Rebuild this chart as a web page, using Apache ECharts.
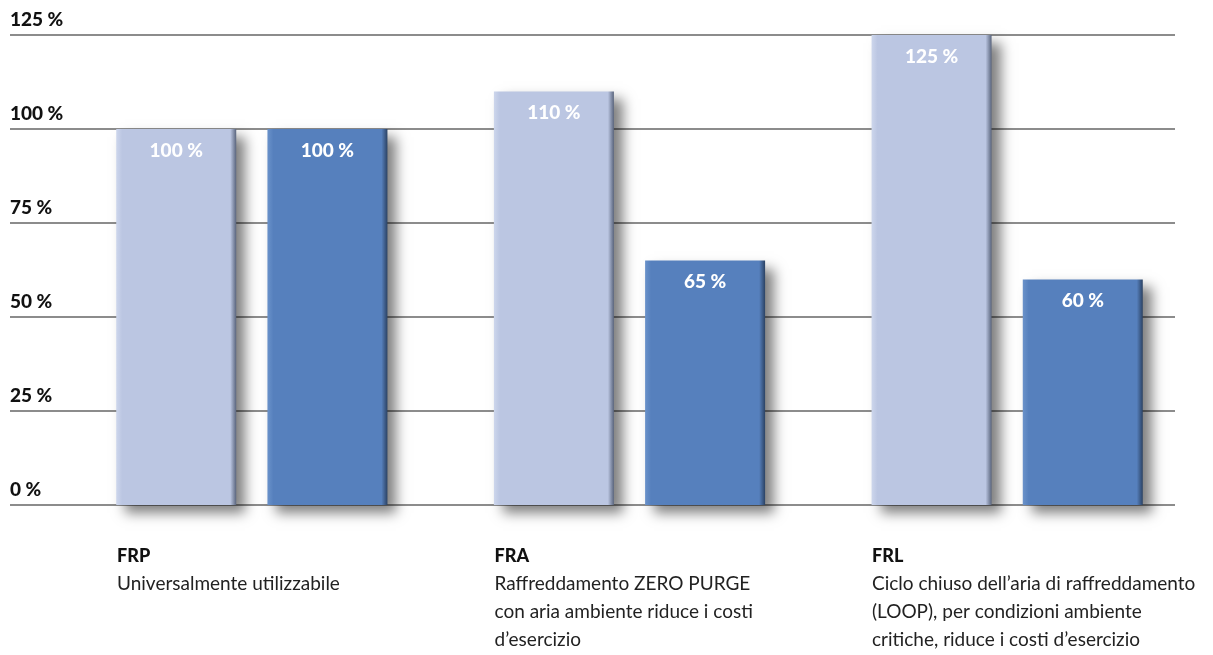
<!DOCTYPE html>
<html>
<head>
<meta charset="utf-8">
<script src="https://cdn.jsdelivr.net/npm/echarts@6/dist/echarts.min.js"></script>
<style>
  html, body { margin: 0; padding: 0; background: #fff; }
  #chart { width: 1213px; height: 655px; }
</style>
</head>
<body>
<div id="chart"></div>
<script>
var categories = ['FRP', 'FRA', 'FRL'];
var descriptions = [
    ['Universalmente utilizzabile'],
    ['Raffreddamento ZERO PURGE', 'con aria ambiente riduce i costi', 'd\u2019esercizio'],
    ['Ciclo chiuso dell\u2019aria di raffreddamento', '(LOOP), per condizioni ambiente', 'critiche, riduce i costi d\u2019esercizio']
];
var standardValues = [100, 110, 125];
var optionValues = [100, 65, 60];
var yMin = 0, yMax = 125, yStep = 25;

var myChart = echarts.init(document.getElementById('chart'));

function barColor(left, main, right) {
    return new echarts.graphic.LinearGradient(0, 0, 1, 0, [
        { offset: 0, color: left },
        { offset: 0.05, color: main },
        { offset: 0.95, color: main },
        { offset: 1, color: right }
    ]);
}

var valueLabel = {
    show: true,
    position: 'insideTop',
    distance: 12,
    color: '#fff',
    fontFamily: 'Lato',
    fontWeight: 900,
    fontSize: 19,
    formatter: '{c} %'
};

var option = {
    animation: false,
    backgroundColor: '#fff',
    grid: [
        // grid 0: horizontal lines + y labels
        { left: 10, right: 38, top: 35, bottom: 150 },
        // grid 1: bars
        { left: 63, width: 1133, top: 35, bottom: 150 },
        // grid 2: category texts, left aligned with first bar
        { left: 117, width: 755, top: 35, bottom: 150 }
    ],
    xAxis: [
        { gridIndex: 0, type: 'value', show: false },
        {
            gridIndex: 1, type: 'category', data: categories,
            axisLine: { show: false }, axisTick: { show: false }, axisLabel: { show: false }
        },
        {
            gridIndex: 2, type: 'category', data: categories, boundaryGap: false,
            axisLine: { show: false }, axisTick: { show: false },
            axisLabel: {
                interval: 0,
                align: 'left',
                verticalAlign: 'top',
                margin: 37,
                formatter: function (value, i) {
                    var s = '{t|' + value + '}';
                    descriptions[i].forEach(function (line) {
                        s += '\n{d|' + line + '}';
                    });
                    return s;
                },
                rich: {
                    t: { fontFamily: 'Lato', fontWeight: 900, fontSize: 18, color: '#111', lineHeight: 28 },
                    d: { fontFamily: 'Lato', fontSize: 19, color: '#222', lineHeight: 28 }
                }
            }
        }
    ],
    yAxis: [
        {
            gridIndex: 0, type: 'value', min: yMin, max: yMax, interval: yStep,
            axisLine: { show: false }, axisTick: { show: false },
            splitLine: { lineStyle: { color: '#8c8c8c', width: 2 } },
            axisLabel: {
                inside: true,
                margin: 0,
                align: 'left',
                verticalAlign: 'bottom',
                padding: [0, 0, 6, 0],
                fontFamily: 'Lato',
                fontWeight: 900,
                fontSize: 19,
                color: '#111',
                formatter: '{value} %'
            }
        },
        { gridIndex: 1, type: 'value', min: yMin, max: yMax, show: false, splitLine: { show: false } },
        { gridIndex: 2, type: 'value', min: yMin, max: yMax, show: false, splitLine: { show: false } }
    ],
    series: [
        {
            type: 'bar',
            xAxisIndex: 1,
            yAxisIndex: 1,
            data: standardValues,
            barWidth: 120,
            barGap: '26%',
            itemStyle: {
                color: barColor('#cdd6ec', '#bbc6e2', '#59647c'),
                shadowColor: 'rgba(0,0,0,0.5)',
                shadowBlur: 12,
                shadowOffsetX: 9,
                shadowOffsetY: 8
            },
            label: valueLabel
        },
        {
            type: 'bar',
            xAxisIndex: 1,
            yAxisIndex: 1,
            data: optionValues,
            barWidth: 120,
            barGap: '26%',
            itemStyle: {
                color: barColor('#6a92ca', '#5680bd', '#2b4263'),
                shadowColor: 'rgba(0,0,0,0.5)',
                shadowBlur: 12,
                shadowOffsetX: 9,
                shadowOffsetY: 8
            },
            label: valueLabel
        }
    ]
};

myChart.setOption(option);
</script>
</body>
</html>
